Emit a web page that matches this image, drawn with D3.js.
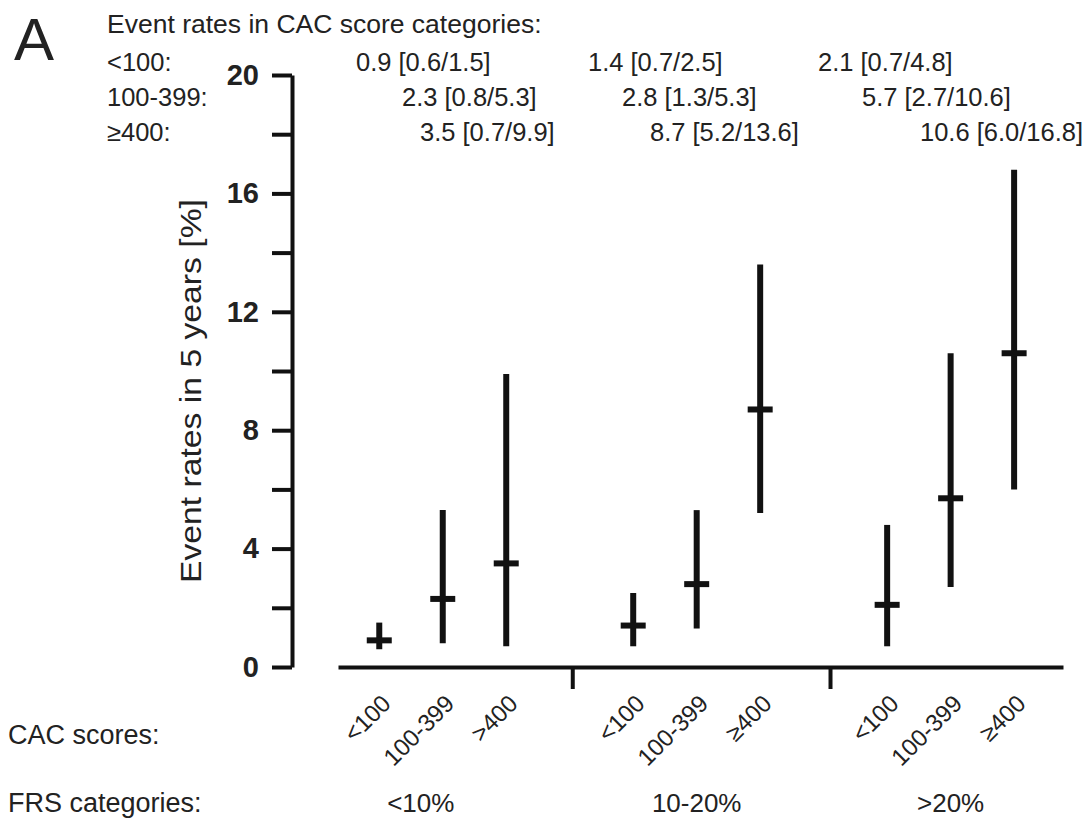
<!DOCTYPE html>
<html>
<head>
<meta charset="utf-8">
<script src="https://cdn.jsdelivr.net/npm/d3@7"></script>
<style>
  html, body { margin: 0; padding: 0; background: #fff; }
  svg { display: block; font-family: Arial, "Liberation Sans", sans-serif; }
</style>
</head>
<body>
<svg id="chart" width="1088" height="828"></svg>
<script>
// ---------- data ----------
const frsGroups = ["<10%", "10-20%", ">20%"];
const cacLabels = [
  ["<100", "100-399", ">400"],
  ["<100", "100-399", "≥400"],
  ["<100", "100-399", "≥400"]
];
const rowLabels = ["<100:", "100-399:", "≥400:"];
const estimates = [[0.9, 2.3, 3.5], [1.4, 2.8, 8.7], [2.1, 5.7, 10.6]];
const lowerCI   = [[0.6, 0.8, 0.7], [0.7, 1.3, 5.2], [0.7, 2.7, 6.0]];
const upperCI   = [[1.5, 5.3, 9.9], [2.5, 5.3, 13.6], [4.8, 10.6, 16.8]];
const yTicks = [0, 2, 4, 6, 8, 10, 12, 14, 16, 18, 20];
const yTickLabels = [0, 4, 8, 12, 16, 20];

// ---------- layout ----------
const svg = d3.select("#chart");
const ink = "#111";
const textInk = "#222";

const y = d3.scaleLinear().domain([0, 20]).range([667, 75]);
// slot index: group*4 + category (slots 3 and 7 are the gaps between groups)
const xSlot = d3.scaleLinear().domain([-0.65, 10.77]).range([338, 1063]);

// y axis
const yAxis = d3.axisLeft(y)
  .tickValues(yTicks)
  .tickSize(20)
  .tickSizeOuter(0)
  .tickPadding(13)
  .tickFormat(d => yTickLabels.includes(d) ? d : "");
const gy = svg.append("g").attr("transform", "translate(292,0)").call(yAxis);
gy.select(".domain").attr("stroke", ink).attr("stroke-width", 4);
gy.selectAll(".tick line").attr("stroke", ink).attr("stroke-width", 4);
gy.selectAll(".tick text")
  .attr("fill", textInk)
  .style("font-size", "29px")
  .style("font-weight", "bold")
  .style("font-family", "Arial, 'Liberation Sans', sans-serif");

// x axis with group separators
const xAxis = d3.axisBottom(xSlot)
  .tickValues([3.04, 7.1])
  .tickSize(22)
  .tickSizeOuter(0)
  .tickFormat("");
const gx = svg.append("g").attr("transform", "translate(0,667)").call(xAxis);
gx.select(".domain").attr("stroke", ink).attr("stroke-width", 4);
gx.selectAll(".tick line").attr("stroke", ink).attr("stroke-width", 4);

// marks
const cells = [];
frsGroups.forEach((g, gi) => {
  cacLabels[gi].forEach((c, ci) => {
    cells.push({gi, ci, slot: gi * 4 + ci, est: estimates[gi][ci], lo: lowerCI[gi][ci], hi: upperCI[gi][ci], label: c});
  });
});

const marks = svg.append("g");
marks.selectAll("line.ci").data(cells).join("line")
  .attr("class", "ci")
  .attr("x1", d => xSlot(d.slot)).attr("x2", d => xSlot(d.slot))
  .attr("y1", d => y(d.lo)).attr("y2", d => y(d.hi))
  .attr("stroke", ink).attr("stroke-width", 6);
marks.selectAll("line.est").data(cells).join("line")
  .attr("class", "est")
  .attr("x1", d => xSlot(d.slot) - 12.5).attr("x2", d => xSlot(d.slot) + 12.5)
  .attr("y1", d => y(d.est)).attr("y2", d => y(d.est))
  .attr("stroke", ink).attr("stroke-width", 6);

// rotated CAC labels
svg.append("g").selectAll("text").data(cells).join("text")
  .attr("transform", d => `translate(${xSlot(d.slot) + 13},705) rotate(-45)`)
  .attr("text-anchor", "end")
  .attr("fill", textInk)
  .style("font-size", "24px")
  .text(d => d.label);

// FRS group labels
const frsDx = [-22, 0, 0];
svg.append("g").selectAll("text").data(frsGroups).join("text")
  .attr("x", (d, i) => xSlot(i * 4 + 1) + frsDx[i])
  .attr("y", 812)
  .attr("text-anchor", "middle")
  .attr("fill", textInk)
  .style("font-size", "26px")
  .text(d => d);

// left-side row titles
svg.append("text").attr("x", 8).attr("y", 744).attr("fill", textInk)
  .style("font-size", "27px").text("CAC scores:");
svg.append("text").attr("x", 8).attr("y", 812).attr("fill", textInk)
  .style("font-size", "27px").text("FRS categories:");

// y axis title
svg.append("text")
  .attr("transform", "translate(201,391) rotate(-90)")
  .attr("text-anchor", "middle")
  .attr("fill", textInk)
  .attr("textLength", 384)
  .attr("lengthAdjust", "spacingAndGlyphs")
  .style("font-size", "29px")
  .text("Event rates in 5 years [%]");

// panel letter
svg.append("text").attr("x", 14).attr("y", 60).attr("fill", textInk)
  .style("font-size", "60px").text("A");

// header annotation
svg.append("text").attr("x", 107).attr("y", 33).attr("fill", textInk)
  .style("font-size", "26.5px").text("Event rates in CAC score categories:");
const rowBase = [71, 106, 141];
svg.append("g").selectAll("text").data(rowLabels).join("text")
  .attr("x", 107).attr("y", (d, i) => rowBase[i])
  .attr("fill", textInk).style("font-size", "25.5px").text(d => d);

const annoX = [[356, 402, 420], [588, 622, 650], [818, 862, 920]];
const fmt = d3.format(".1f");
svg.append("g").selectAll("text").data(cells).join("text")
  .attr("x", d => annoX[d.gi][d.ci])
  .attr("y", d => rowBase[d.ci])
  .attr("fill", textInk)
  .style("font-size", "25.5px")
  .text(d => `${fmt(d.est)} [${fmt(d.lo)}/${fmt(d.hi)}]`);
</script>
</body>
</html>
